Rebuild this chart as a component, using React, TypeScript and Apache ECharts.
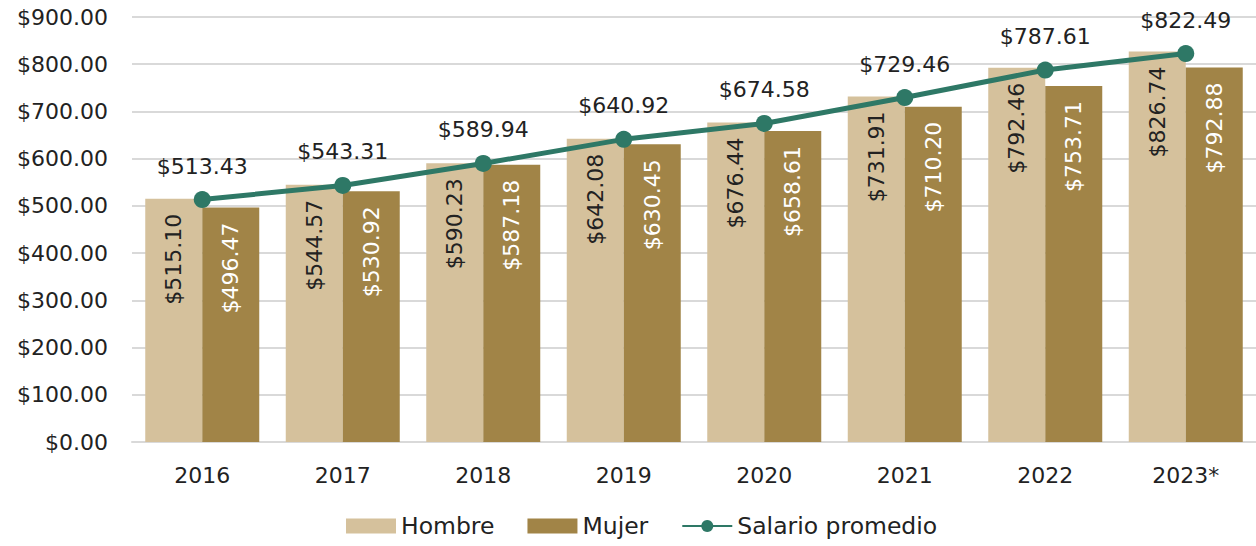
import React, { useEffect, useRef } from "react";
import * as echarts from "echarts";

const years = ["2016", "2017", "2018", "2019", "2020", "2021", "2022", "2023*"];
const hombre = [515.1, 544.57, 590.23, 642.08, 676.44, 731.91, 792.46, 826.74];
const mujer = [496.47, 530.92, 587.18, 630.45, 658.61, 710.2, 753.71, 792.88];
const promedio = [513.43, 543.31, 589.94, 640.92, 674.58, 729.46, 787.61, 822.49];

const FONT = "DejaVu Sans";
const fmt = (v: number) => "$" + v.toFixed(2);

export default function App() {
  const ref = useRef<HTMLDivElement>(null);
  useEffect(() => {
    document.body.style.margin = "0";
    const chart = echarts.init(ref.current!, null, { renderer: "svg" });
    chart.setOption({
      animation: false,
      textStyle: { fontFamily: FONT },
      grid: { left: 132, right: 0, top: 17, bottom: 104 },
      legend: {
        bottom: 3,
        left: 341,
        itemWidth: 50,
        itemHeight: 15,
        itemGap: 33,
        textStyle: { fontSize: 23.5, color: "#222", fontFamily: FONT },
        data: [
          { name: "Hombre", icon: "rect" },
          { name: "Mujer", icon: "rect" },
          { name: "Salario promedio" },
        ],
      },
      xAxis: {
        type: "category",
        data: years,
        axisTick: { show: false },
        axisLine: { lineStyle: { color: "#D9D9D9", width: 2 } },
        axisLabel: { fontSize: 22, color: "#222", margin: 22 },
      },
      yAxis: {
        type: "value",
        min: 0,
        max: 900,
        interval: 100,
        axisLabel: { fontSize: 22, color: "#222", margin: 24, formatter: (v: number) => fmt(v) },
        splitLine: { lineStyle: { color: "#D9D9D9", width: 2 } },
      },
      series: [
        {
          name: "Hombre",
          type: "bar",
          data: hombre,
          barWidth: 57,
          barGap: "0%",
          itemStyle: { color: "#D5C19C" },
          label: {
            show: true,
            position: "insideTop",
            rotate: 90,
            align: "right",
            verticalAlign: "middle",
            distance: 15,
            fontSize: 22,
            color: "#222",
            formatter: (p: any) => fmt(p.value),
          },
        },
        {
          name: "Mujer",
          type: "bar",
          data: mujer,
          barWidth: 57,
          barGap: "0%",
          itemStyle: { color: "#A18447" },
          label: {
            show: true,
            position: "insideTop",
            rotate: 90,
            align: "right",
            verticalAlign: "middle",
            distance: 15,
            fontSize: 22,
            color: "#fff",
            formatter: (p: any) => fmt(p.value),
          },
        },
        {
          name: "Salario promedio",
          type: "line",
          data: promedio,
          symbol: "circle",
          symbolSize: 17,
          lineStyle: { color: "#2E7866", width: 5 },
          itemStyle: { color: "#2E7866" },
          label: {
            show: true,
            position: "top",
            distance: 14,
            fontSize: 22,
            color: "#222",
            formatter: (p: any) => fmt(p.value),
          },
          z: 10,
        },
      ],
    });
    return () => chart.dispose();
  }, []);
  return <div ref={ref} style={{ width: 1256, height: 546 }} />;
}
